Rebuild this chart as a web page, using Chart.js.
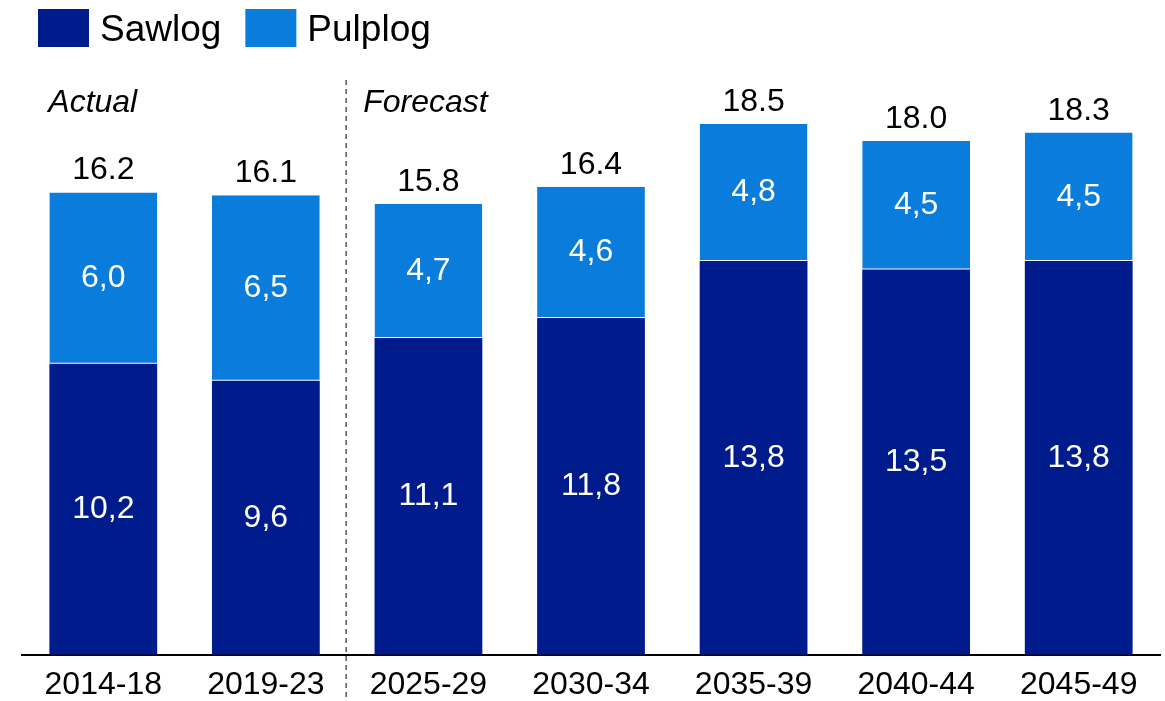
<!DOCTYPE html>
<html>
<head>
<meta charset="utf-8">
<script src="https://cdn.jsdelivr.net/npm/chart.js@4.4.1/dist/chart.umd.min.js"></script>
<style>
  html, body { margin: 0; padding: 0; background: #fff; }
  #wrap { width: 1165px; height: 701px; }
</style>
</head>
<body>
<div id="wrap"><canvas id="volumeChart"></canvas></div>
<script>
// periods on the x axis
const periods = ['2014-18', '2019-23', '2025-29', '2030-34', '2035-39', '2040-44', '2045-49'];
// segment values (million m3)
const sawlog = [10.2, 9.6, 11.1, 11.8, 13.8, 13.5, 13.8];
const pulplog = [6.0, 6.5, 4.7, 4.6, 4.8, 4.5, 4.5];
// totals as printed above the bars
const totals = ['16.2', '16.1', '15.8', '16.4', '18.5', '18.0', '18.3'];
const actualCount = 2; // first two periods are actual, the rest forecast

const FONT = "'Liberation Sans', Arial, sans-serif";
const SAW_COLOR = '#001C8C';
const PULP_COLOR = '#0A7CDC';

// draws legend, labels, divider and the segment/total values
const annotations = {
    id: 'annotations',
    afterDatasetsDraw(chart) {
        const ctx = chart.ctx;
        const x = chart.scales.x;
        ctx.save();

        // legend
        let lx = 38;
        chart.data.datasets.forEach(function(ds) {
            ctx.fillStyle = ds.backgroundColor;
            ctx.fillRect(lx, 9, 51, 38);
            ctx.fillStyle = '#000';
            ctx.font = '37px ' + FONT;
            ctx.textBaseline = 'middle';
            ctx.textAlign = 'left';
            ctx.fillText(ds.label, lx + 62, 31);
            lx += 62 + ctx.measureText(ds.label).width + 24;
        });

        // actual / forecast divider
        const divX = (x.getPixelForValue(actualCount - 1) + x.getPixelForValue(actualCount)) / 2 - 1;
        ctx.strokeStyle = '#555';
        ctx.lineWidth = 1.5;
        ctx.setLineDash([5, 4]);
        ctx.beginPath();
        ctx.moveTo(divX, 80);
        ctx.lineTo(divX, chart.height);
        ctx.stroke();
        ctx.setLineDash([]);

        ctx.font = 'italic 32px ' + FONT;
        ctx.fillStyle = '#000';
        ctx.textAlign = 'left';
        ctx.textBaseline = 'alphabetic';
        ctx.fillText('Actual', x.getPixelForValue(0) - 55, 112);
        ctx.fillText('Forecast', divX + 17, 112);

        // values inside segments
        ctx.font = '32px ' + FONT;
        ctx.textAlign = 'center';
        ctx.textBaseline = 'middle';
        ctx.fillStyle = '#fff';
        chart.data.datasets.forEach(function(ds, di) {
            chart.getDatasetMeta(di).data.forEach(function(bar, i) {
                const mid = (bar.y + bar.base) / 2;
                ctx.fillText(ds.data[i].toFixed(1).replace('.', ','), bar.x, mid);
            });
        });

        // totals above bars
        ctx.fillStyle = '#000';
        ctx.textBaseline = 'alphabetic';
        const topMeta = chart.getDatasetMeta(1);
        topMeta.data.forEach(function(bar, i) {
            ctx.fillText(totals[i], bar.x, bar.y - 13);
        });

        ctx.restore();
    }
};

new Chart(document.getElementById('volumeChart'), {
    type: 'bar',
    data: {
        labels: periods,
        datasets: [{
            label: 'Sawlog',
            data: sawlog,
            backgroundColor: SAW_COLOR,
            borderColor: '#fff',
            borderWidth: 0
        }, {
            label: 'Pulplog',
            data: pulplog,
            backgroundColor: PULP_COLOR,
            borderColor: '#fff',
            borderWidth: { top: 0, bottom: 1, left: 0, right: 0 },
            borderSkipped: false
        }]
    },
    options: {
        responsive: true,
        maintainAspectRatio: false,
        animation: false,
        barPercentage: 0.663,
        categoryPercentage: 1,
        layout: {
            padding: { top: 84, left: 22, right: 5, bottom: -15 }
        },
        scales: {
            x: {
                stacked: true,
                grid: { display: false, drawTicks: false },
                border: { display: true, color: '#000', width: 2 },
                ticks: {
                    color: '#000',
                    padding: 13,
                    font: { family: FONT, size: 32, lineHeight: 1.1 }
                }
            },
            y: {
                stacked: true,
                display: false,
                min: 0,
                max: 20
            }
        },
        plugins: {
            legend: { display: false },
            tooltip: { enabled: false }
        }
    },
    plugins: [annotations]
});
</script>
</body>
</html>
